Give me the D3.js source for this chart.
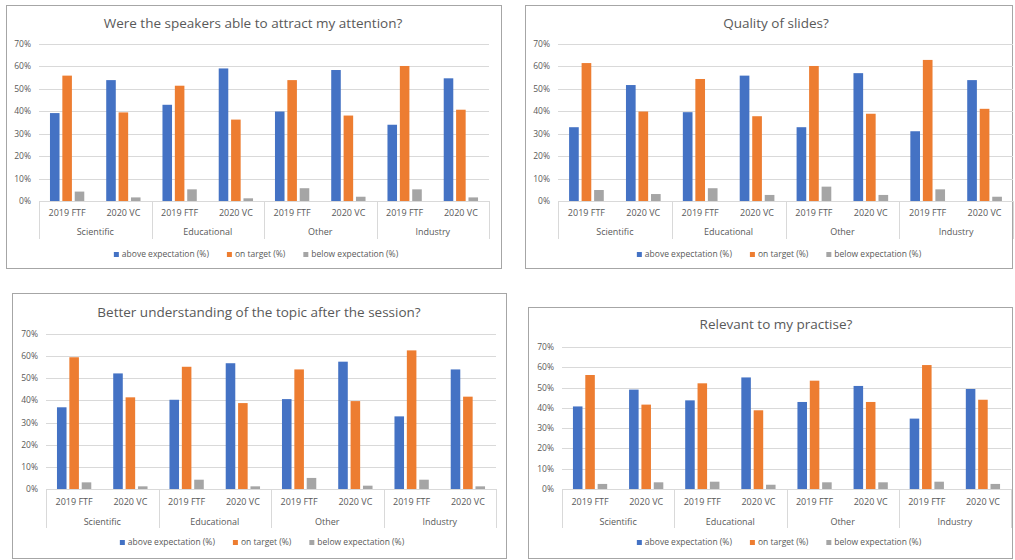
<!DOCTYPE html>
<html>
<head>
<meta charset="utf-8">
<script src="https://cdn.jsdelivr.net/npm/d3@7/dist/d3.min.js"></script>
<style>
  body { margin: 0; background: #fff; }
  svg { display: block; font-family: "Open Sans", "Noto Sans", sans-serif; }
</style>
</head>
<body>
<svg width="1015" height="560"></svg>
<script>
// data
var groups = ["Scientific", "Educational", "Other", "Industry"];
var subs = ["2019 FTF", "2020 VC"];
var seriesNames = ["above expectation (%)", "on target (%)", "below expectation (%)"];
var yTicks = [0, 10, 20, 30, 40, 50, 60, 70];

var titles = [
  "Were the speakers able to attract my attention?",
  "Quality of slides?",
  "Better understanding of the topic after the session?",
  "Relevant to my practise?"
];

// values per chart: [series][group*2 + sub]
var attention = [
  [39.2, 53.9, 42.9, 59.1, 39.9, 58.4, 34.0, 54.7],
  [55.9, 39.5, 51.4, 36.3, 53.9, 38.1, 60.2, 40.7],
  [4.2, 1.6, 5.2, 1.2, 5.7, 1.9, 5.2, 1.6]
];
var slides = [
  [32.9, 51.7, 39.6, 55.9, 32.9, 57.0, 31.1, 53.9],
  [61.5, 39.9, 54.4, 37.8, 60.2, 38.9, 62.9, 41.1],
  [4.9, 3.1, 5.7, 2.7, 6.4, 2.7, 5.2, 1.9]
];
var understanding = [
  [36.9, 52.2, 40.3, 56.8, 40.6, 57.5, 32.8, 54.0],
  [59.5, 41.4, 55.2, 38.8, 54.0, 39.7, 62.6, 41.7],
  [3.0, 1.2, 4.2, 1.2, 5.0, 1.5, 4.2, 1.2]
];
var relevant = [
  [40.7, 49.0, 43.7, 55.0, 42.9, 50.8, 34.7, 49.3],
  [56.2, 41.6, 52.1, 38.8, 53.4, 42.9, 61.1, 44.0],
  [2.5, 3.3, 3.6, 2.1, 3.3, 3.3, 3.6, 2.5]
];
var allValues = [attention, slides, understanding, relevant];

var colors = ["#4472C4", "#ED7D31", "#A5A5A5"];

// layout of each panel (boxes are the framed chart areas)
var panels = [
  {box: [6.5, 5.5, 495, 263], x0: 39, x1: 489, yTop: 44, yBot: 201, titleY: 28, subY: 216, grpY: 235, divBot: 239, legY: 257, legX: 256},
  {box: [525.5, 5.5, 487, 263], x0: 558, x1: 1013, yTop: 44, yBot: 201, titleY: 28, subY: 216, grpY: 235, divBot: 239, legY: 257, legX: 779},
  {box: [12.5, 293.5, 494, 265], x0: 46, x1: 496, yTop: 334, yBot: 489, titleY: 317, subY: 505, grpY: 525, divBot: 528, legY: 545, legX: 262},
  {box: [528.5, 307.5, 484, 251], x0: 562, x1: 1011, yTop: 347, yBot: 489, titleY: 329, subY: 505, grpY: 525, divBot: 528, legY: 545, legX: 779}
];

var svg = d3.select("svg");
var textCol = "#595959";
var gridCol = "#d9d9d9";

panels.forEach(function(p, k) {
  var vals = allValues[k];
  var g = svg.append("g");

  g.append("rect")
    .attr("x", p.box[0]).attr("y", p.box[1])
    .attr("width", p.box[2]).attr("height", p.box[3])
    .attr("fill", "#fff").attr("stroke", "#a6a6a6").attr("stroke-width", 1);

  var y = d3.scaleLinear().domain([0, 70]).range([p.yBot, p.yTop]);
  var xg = d3.scaleBand().domain(groups).range([p.x0, p.x1]).padding(0);
  var xs = d3.scaleBand().domain(subs).range([0, xg.bandwidth()]).padding(0);
  var slot = xs.bandwidth();
  var bw = slot * 0.17, step = slot * 0.22;

  // gridlines
  g.selectAll(".grid").data(yTicks.filter(function(t) { return t > 0; }))
    .enter().append("line")
    .attr("x1", p.x0).attr("x2", p.x1)
    .attr("y1", function(d) { return Math.round(y(d)) + 0.5; })
    .attr("y2", function(d) { return Math.round(y(d)) + 0.5; })
    .attr("stroke", gridCol).attr("stroke-width", 1);

  // y tick labels
  g.selectAll(".ytl").data(yTicks).enter().append("text")
    .attr("x", p.x0 - 8)
    .attr("y", function(d) { return y(d) + 3; })
    .attr("text-anchor", "end")
    .attr("font-size", "8.5px").attr("fill", textCol)
    .text(function(d) { return d + "%"; });

  // bars
  var data = [];
  groups.forEach(function(gr, gi) {
    subs.forEach(function(s, si) {
      seriesNames.forEach(function(sn, ci) {
        data.push({g: gr, s: s, c: ci, v: vals[ci][gi * 2 + si]});
      });
    });
  });
  g.selectAll(".bar").data(data).enter().append("rect")
    .attr("x", function(d) { return xg(d.g) + xs(d.s) + slot / 2 - step - bw / 2 + d.c * step; })
    .attr("y", function(d) { return y(d.v); })
    .attr("width", bw)
    .attr("height", function(d) { return y(0) - y(d.v); })
    .attr("fill", function(d) { return colors[d.c]; });

  // category axis
  g.append("line")
    .attr("x1", p.x0).attr("x2", p.x1)
    .attr("y1", Math.round(y(0)) + 0.5).attr("y2", Math.round(y(0)) + 0.5)
    .attr("stroke", gridCol);
  var divs = groups.map(function(d) { return xg(d); }).concat([p.x1]);
  g.selectAll(".div").data(divs).enter().append("line")
    .attr("x1", function(d) { return Math.round(d) + 0.5; })
    .attr("x2", function(d) { return Math.round(d) + 0.5; })
    .attr("y1", y(0)).attr("y2", p.divBot)
    .attr("stroke", gridCol);

  groups.forEach(function(gr) {
    subs.forEach(function(s) {
      g.append("text")
        .attr("x", xg(gr) + xs(s) + slot / 2).attr("y", p.subY)
        .attr("text-anchor", "middle").attr("font-size", "9px").attr("fill", textCol)
        .text(s);
    });
    g.append("text")
      .attr("x", xg(gr) + xg.bandwidth() / 2).attr("y", p.grpY)
      .attr("text-anchor", "middle").attr("font-size", "9px").attr("fill", textCol)
      .text(gr);
  });

  // title
  g.append("text")
    .attr("x", p.legX - 3).attr("y", p.titleY)
    .attr("text-anchor", "middle").attr("font-size", "13.5px").attr("fill", textCol)
    .text(titles[k]);

  // legend
  var leg = g.append("g");
  var lx = 0;
  seriesNames.forEach(function(sn, ci) {
    leg.append("rect").attr("x", lx).attr("y", -5).attr("width", 5).attr("height", 5)
      .attr("fill", colors[ci]);
    var t = leg.append("text").attr("x", lx + 8).attr("y", 0)
      .attr("font-size", "8.5px").attr("fill", textCol).text(sn);
    lx += 8 + t.node().getComputedTextLength() + 18;
  });
  lx -= 18;
  leg.attr("transform", "translate(" + (p.legX - lx / 2) + "," + p.legY + ")");
});
</script>
</body>
</html>
